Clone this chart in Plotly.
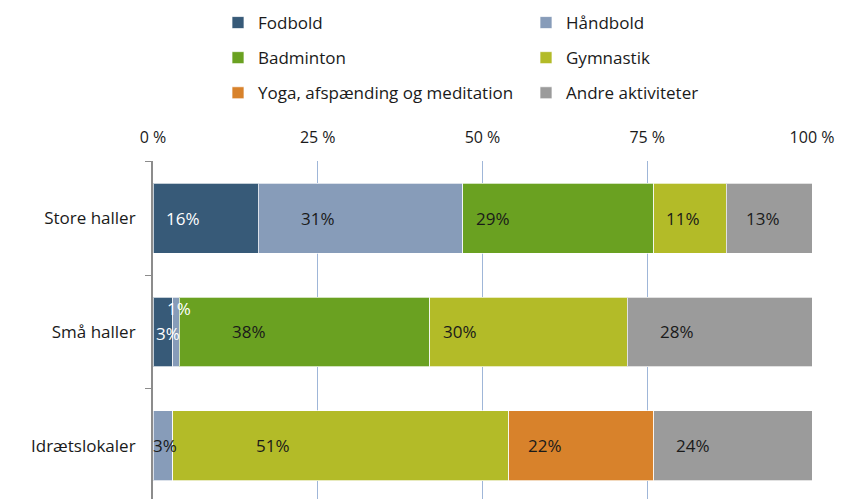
import plotly.graph_objects as go

categories = ["Store haller", "Små haller", "Idrætslokaler"]
series_names = ["Fodbold", "Håndbold", "Badminton", "Gymnastik",
                "Yoga, afspænding og meditation", "Andre aktiviteter"]
fodbold = [16, 3, 0]
haandbold = [31, 1, 3]
badminton = [29, 38, 0]
gymnastik = [11, 30, 51]
yoga = [0, 0, 22]
andre = [13, 28, 24]
series_values = [fodbold, haandbold, badminton, gymnastik, yoga, andre]
tick_vals = [0, 25, 50, 75, 100]
tick_text = ["0 %", "25 %", "50 %", "75 %", "100 %"]

colors = ["#375a78", "#879cb9", "#6aa121", "#b3bb28", "#d8822b", "#9b9b9b"]
legend_of = ["legend", "legend2", "legend", "legend2", "legend", "legend2"]
label_colors = ["white", "#1a1a1a", "#1a1a1a", "#1a1a1a", "#1a1a1a", "#1a1a1a"]
# per-label nudges (pixels) relative to segment centre, styling only
x_nudge = {
    (0, 0): -23, (0, 1): -43, (0, 2): -65, (0, 3): -7, (0, 5): -6,
    (1, 0): 5, (1, 1): 3, (1, 2): -56, (1, 3): -69, (1, 5): -43,
    (2, 1): 2, (2, 3): -68, (2, 4): -36, (2, 5): -40,
}
y_nudge = {(1, 0): -2, (1, 1): 23}
label_color_override = {(1, 1): "white"}

FONT = "Open Sans"
TEXT = "#1a1a1a"
# page has an 8px body margin, so the figure is 8px smaller than the window
W, H = 835, 491
ML, MR, MT, MB = 145, 31, 153, 0
PW, PH = W - ML - MR, H - MT - MB

fig = go.Figure()
for i, (name, vals) in enumerate(zip(series_names, series_values)):
    fig.add_trace(go.Bar(
        y=categories, x=vals, name=name, orientation="h",
        marker=dict(color=colors[i], line=dict(color="rgba(255,255,255,0.7)", width=1)),
        legend=legend_of[i], legendgroup=name, hoverinfo="skip",
    ))

annotations = []
for ci, cat in enumerate(categories):
    start = 0
    for si, vals in enumerate(series_values):
        v = vals[ci]
        if v > 0:
            annotations.append(dict(
                x=start + v / 2, y=cat, xref="x", yref="y",
                text=f"{v}%", showarrow=False,
                xshift=x_nudge.get((ci, si), 0), yshift=y_nudge.get((ci, si), 0),
                font=dict(family=FONT, size=17,
                          color=label_color_override.get((ci, si), label_colors[si])),
            ))
        start += v

legend_common = dict(
    font=dict(family=FONT, size=17, color=TEXT),
    xanchor="left", yanchor="top",
    traceorder="grouped", tracegroupgap=10, bgcolor="rgba(0,0,0,0)",
)
leg_top = (H - MB + 3) / PH

fig.update_layout(
    width=W, height=H,
    margin=dict(l=ML, r=MR, t=MT, b=MB, autoexpand=False),
    barmode="stack", bargap=0.386,
    paper_bgcolor="white", plot_bgcolor="white",
    font=dict(family=FONT, size=17, color=TEXT),
    showlegend=True,
    legend=dict(x=(210 - ML) / PW, y=leg_top, **legend_common),
    legend2=dict(x=(518 - ML) / PW, y=leg_top, **legend_common),
    xaxis=dict(
        side="top", range=[0, 100], tickvals=tick_vals, ticktext=tick_text,
        showgrid=True, gridcolor="#9fb6d8", gridwidth=1, zeroline=False,
        showline=False, ticks="", ticklabelstandoff=14,
        tickfont=dict(family=FONT, size=16, color=TEXT),
        fixedrange=True, automargin=False,
    ),
    yaxis=dict(
        type="category", categoryorder="array", categoryarray=categories,
        range=[2.465, -0.5], showline=True, linecolor="#8c8c8c", linewidth=2,
        ticks="outside", tickson="boundaries", ticklen=6, tickcolor="#8c8c8c",
        tickwidth=1, ticklabelstandoff=12, showgrid=False,
        tickfont=dict(family=FONT, size=17, color=TEXT), fixedrange=True,
        automargin=False,
    ),
    annotations=annotations,
)

fig.write_html("out.html")
